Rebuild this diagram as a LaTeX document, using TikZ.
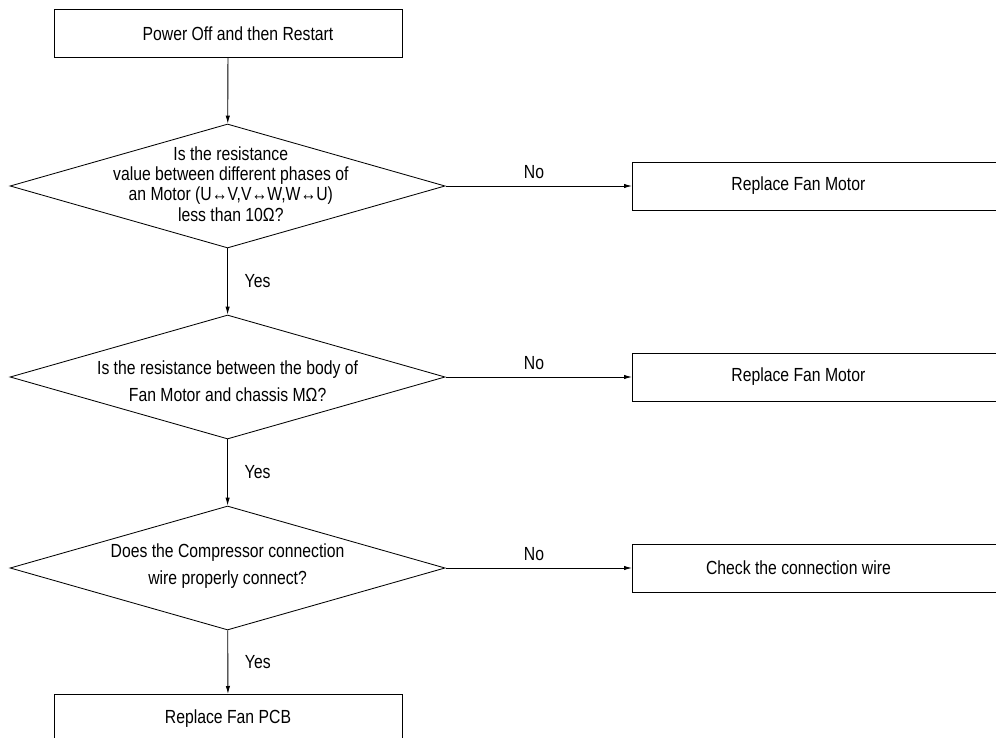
\documentclass[tikz,border=0pt]{standalone}
\usepackage{fontspec}
\setmainfont{Liberation Sans}[FakeStretch=0.83]
\usetikzlibrary{arrows.meta,positioning,shapes.geometric}

\begin{document}
\begin{tikzpicture}[
    font=\fontsize{13.5}{15}\selectfont,
    line width=0.6pt,
    stepbox/.style={draw,minimum width=8.7cm,minimum height=1.2cm},
    outbox/.style={draw,anchor=west,minimum width=9.6cm,minimum height=1.2cm},
    outtext/.style={xshift=-0.65cm},
    decision/.style={draw,diamond,inner sep=0pt,minimum width=10.875cm,minimum height=3.1cm},
    qtext/.style={align=center},
    flow/.style={-{Latex[length=2mm,width=1.1mm]}},
    yeslab/.style={anchor=west,xshift=0.3cm},
    nolab/.style={above,inner sep=5pt,xshift=-0.12cm}
  ]
    \useasboundingbox (0,0) rectangle (24.9,-18.45);
    \clip (0,0) rectangle (24.9,-18.45);

    % steps and questions down the left
    \node[stepbox] (start) at (5.7,-0.84) {\hspace{0.5cm}Power Off and then Restart};
    \node[decision,label={[qtext,font=\fontsize{13.5}{14.4}\selectfont,yshift=0.05cm,xshift=0.08cm]center:{Is the resistance\\value between different phases of\\an Motor (U↔V,V↔W,W↔U)\\less than 10Ω?}}] (q1) at (5.69,-4.65) {};
    \node[decision,label={[qtext,font=\fontsize{13.5}{19.6}\selectfont,yshift=-0.1cm]center:{Is the resistance between the body of\\Fan Motor and chassis MΩ?}}] (q2) at (5.69,-9.425) {};
    \node[decision,label={[qtext,font=\fontsize{13.5}{19.6}\selectfont,yshift=0.05cm]center:{Does the Compressor connection\\wire properly connect?}}] (q3) at (5.69,-14.2) {};
    \node[stepbox,anchor=north] (pcb) at (5.7,-17.35) {Replace Fan PCB};

    % outcomes on the right
    \node[outbox,label={[outtext]center:Replace Fan Motor}] (r1) at (15.8,-4.65) {};
    \node[outbox,label={[outtext]center:Replace Fan Motor}] (r2) at (15.8,-9.425) {};
    \node[outbox,label={[outtext]center:Check the connection wire}] (r3) at (15.8,-14.2) {};

    % connectors
    \draw[flow] (start) -- (q1);
    \draw[flow] (q1) -- node[yeslab] {Yes} (q2);
    \draw[flow] (q2) -- node[yeslab] {Yes} (q3);
    \draw[flow] (q3) -- node[yeslab] {Yes} (pcb);
    \foreach \q/\r in {q1/r1,q2/r2,q3/r3}
      \draw[flow] (\q.east) -- node[nolab] {No} (\r.west);
\end{tikzpicture}
\end{document}
